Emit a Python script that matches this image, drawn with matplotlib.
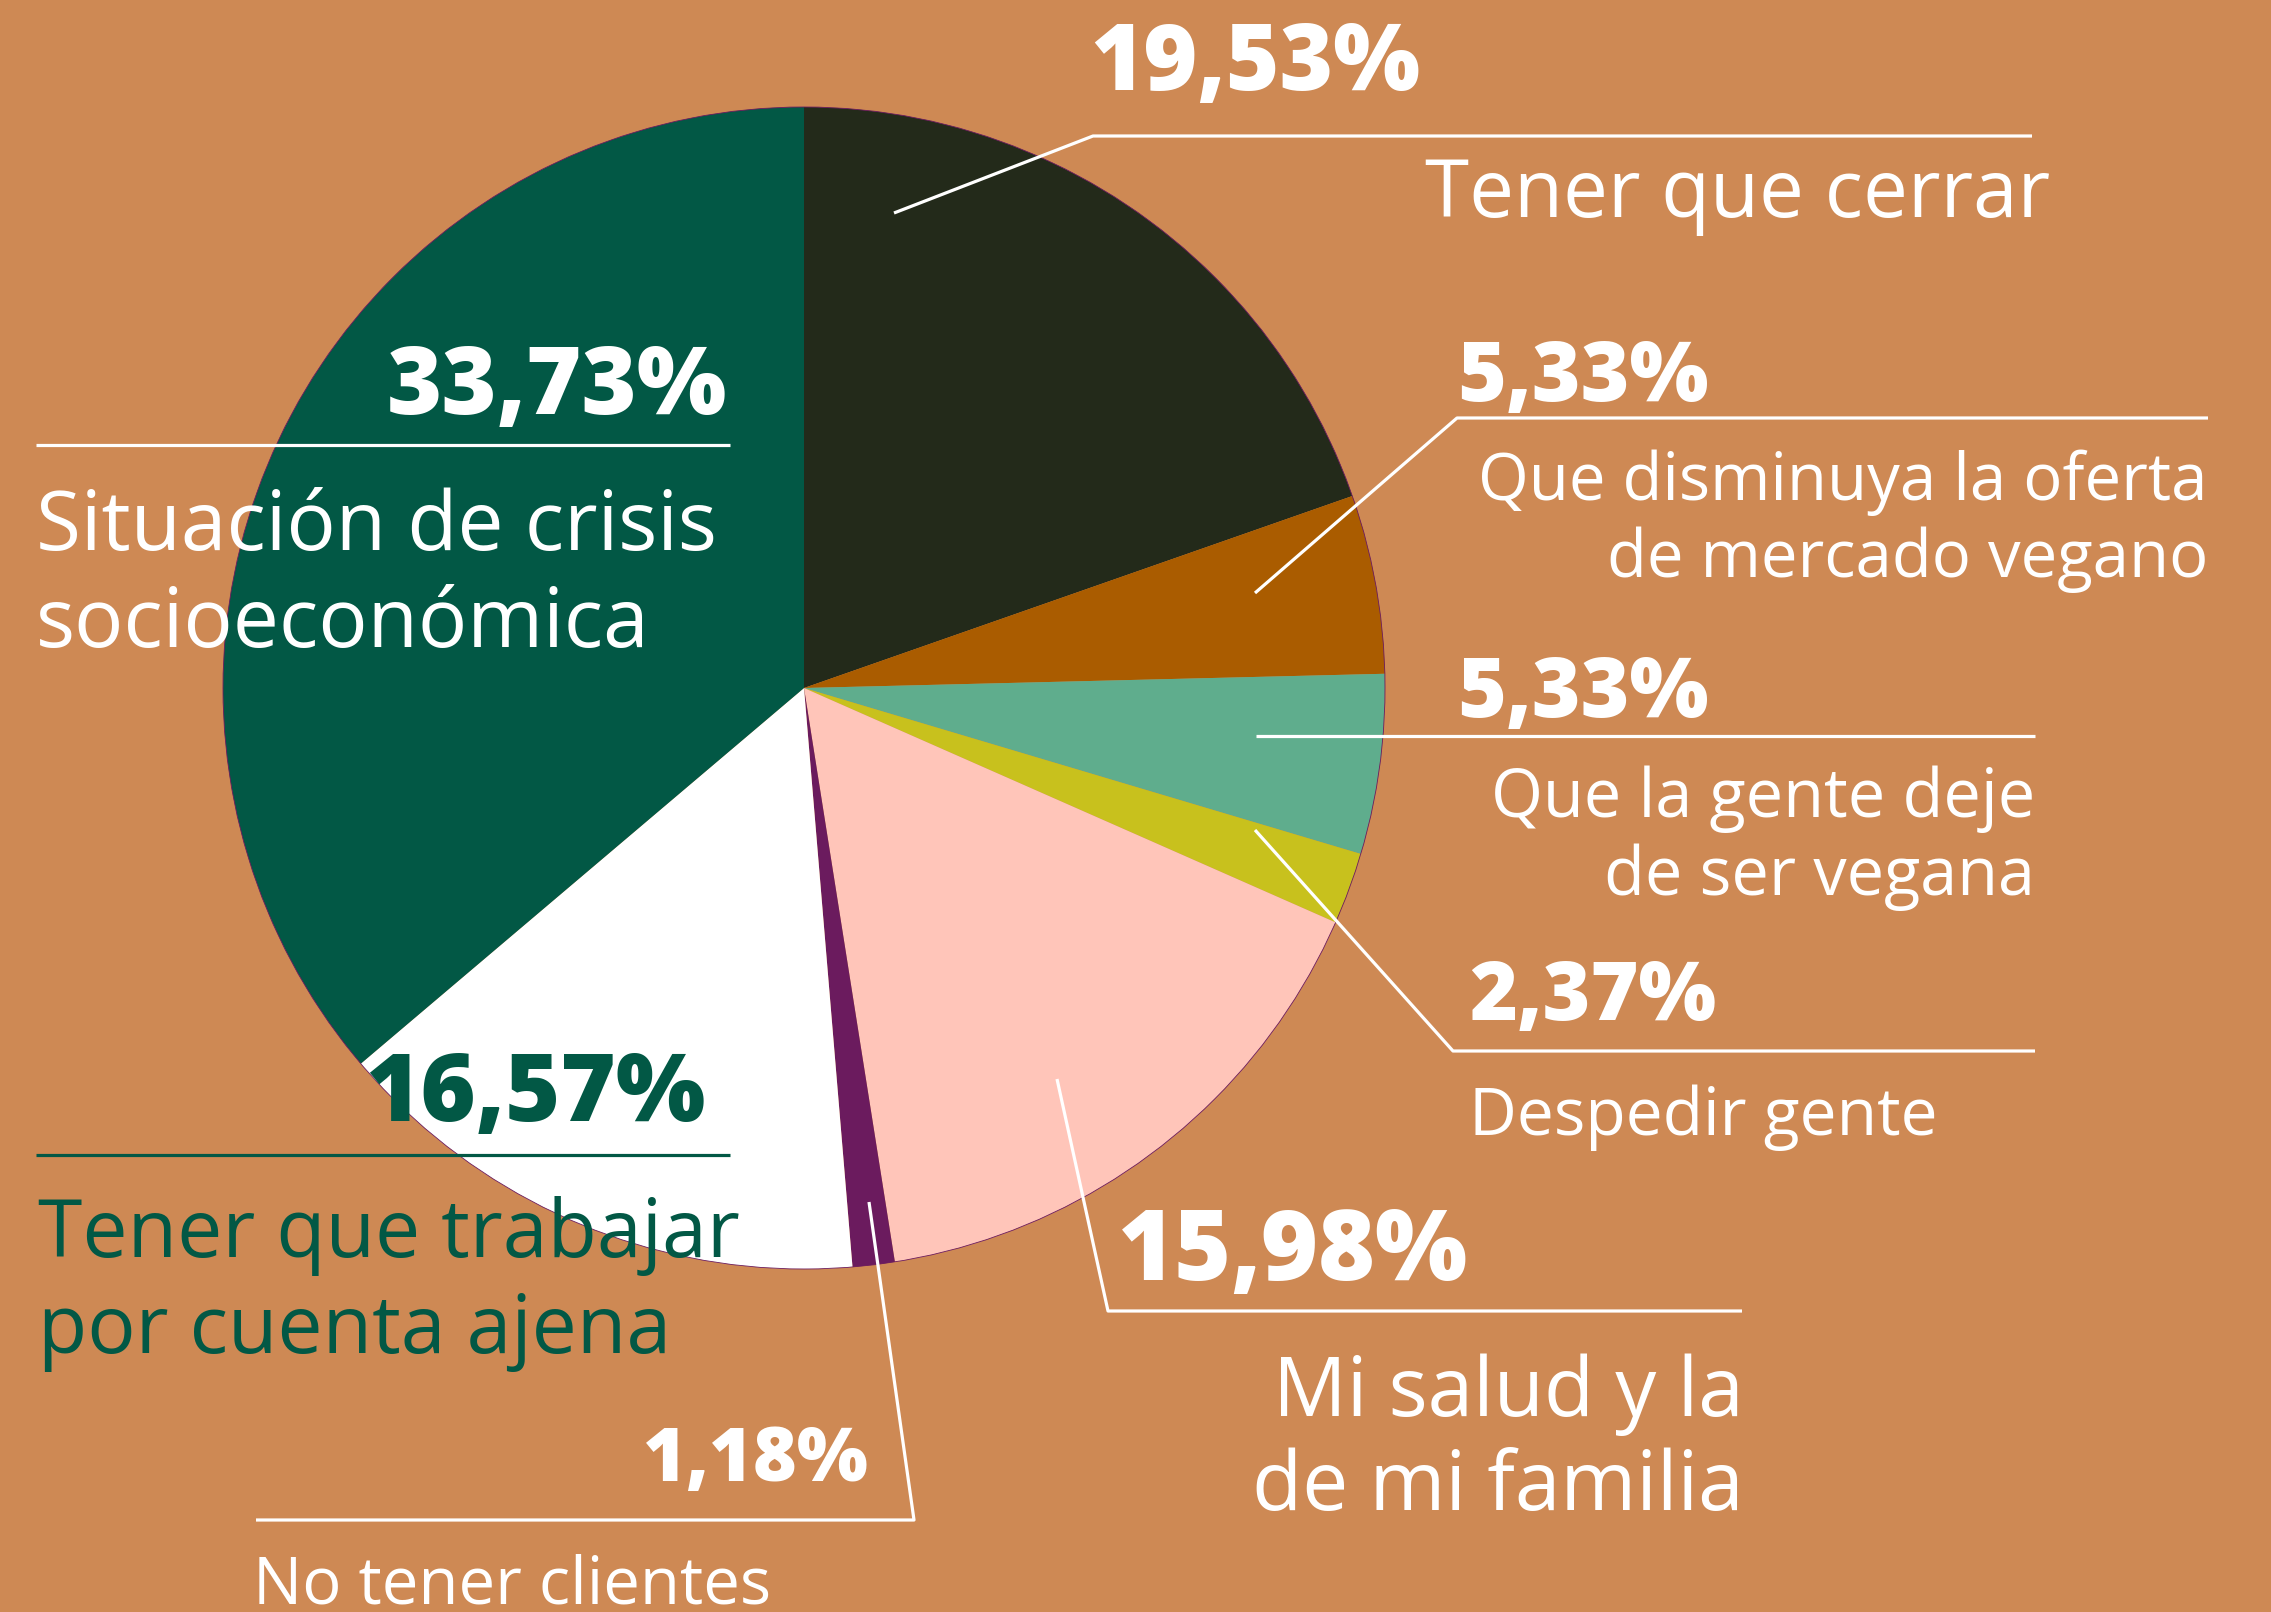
import matplotlib
matplotlib.use("Agg")
import matplotlib.pyplot as plt
from matplotlib.patches import Circle

# ---- data ----
categories = ["Tener que cerrar", "Que disminuya la oferta de mercado vegano",
              "Que la gente deje de ser vegana", "Despedir gente",
              "Mi salud y la de mi familia", "No tener clientes",
              "Tener que trabajar por cuenta ajena",
              "Situación de crisis socioeconómica"]
# percentages printed on the chart
pct_labels = ["19,53%", "5,33%", "5,33%", "2,37%", "15,98%", "1,18%", "16,57%", "33,73%"]
# slice shares as actually drawn in the picture
slice_shares = [19.64, 4.97, 5.00, 2.00, 15.89, 1.17, 15.14, 36.19]
colors = ["#232A1A", "#AA5C00", "#5FAD8D", "#C8C11D", "#FFC5B9", "#6B1B5E",
          "#FFFFFF", "#025845"]
BG = "#CE8954"
GREEN = "#025845"

W, H = 2271, 1612
fig = plt.figure(figsize=(W / 100, H / 100), dpi=100, facecolor=BG)
ax = fig.add_axes([0, 0, 1, 1])
ax.set_facecolor(BG)

CX, CY, R = 804, 688, 581
# pie (y axis inverted -> counterclock in data = clockwise on screen)
ax.pie(slice_shares, colors=colors, startangle=-90, counterclock=True,
       center=(CX, CY), radius=R, wedgeprops=dict(linewidth=0),
       frame=True)
ax.add_patch(Circle((CX, CY), R, fill=False, ec="#6B1B5E", lw=0.6, zorder=3))
ax.set_xlim(0, W)
ax.set_ylim(H, 0)
ax.set_aspect("equal")
ax.axis("off")

FONT = "Open Sans"
LW = 2.3

def line(pts, color="white"):
    xs, ys = zip(*pts)
    ax.plot(xs, ys, color=color, lw=LW, solid_capstyle="butt", zorder=5)

def txt(x, y, s, size, ha="left", color="white", bold=False):
    ax.text(x, y, s, fontsize=size, ha=ha, va="baseline", color=color,
            family=FONT, weight="heavy" if bold else "normal", zorder=6)

# Tener que cerrar
line([(894, 213), (1093, 136), (2032, 136)])
txt(1090, 90, pct_labels[0], 66, bold=True)
txt(2050, 217, "Tener que cerrar", 57.5, ha="right")

# Que disminuya
line([(1255, 593), (1457, 418), (2208, 418)])
txt(1457, 401, pct_labels[1], 60, bold=True)
txt(2208, 500, "Que disminuya la oferta", 47, ha="right")
txt(2208, 577, "de mercado vegano", 47, ha="right")

# Que la gente deje
line([(1256, 736), (2035, 736)])
txt(1457, 717, pct_labels[2], 60, bold=True)
txt(2035, 817, "Que la gente deje", 48, ha="right")
txt(2035, 895, "de ser vegana", 48, ha="right")

# Despedir gente
line([(1255, 830), (1453, 1051), (2035, 1051)])
txt(1469, 1020, pct_labels[3], 59, bold=True)
txt(1469, 1135, "Despedir gente", 47.5)

# Mi salud
line([(1057, 1079), (1108, 1311), (1742, 1311)])
txt(1118, 1280, pct_labels[4], 70, bold=True)
txt(1744, 1416, "Mi salud y la", 59, ha="right")
txt(1744, 1510, "de mi familia", 59, ha="right")

# No tener clientes
line([(869, 1202), (914, 1520), (256, 1520)])
txt(869, 1481, pct_labels[5], 54, ha="right", bold=True)
txt(253, 1603, "No tener clientes", 47)

# Tener que trabajar
line([(36, 1155), (730, 1155)], color=GREEN)
txt(705, 1121, pct_labels[6], 68, ha="right", color=GREEN, bold=True)
txt(38, 1257, "Tener que trabajar", 58, color=GREEN)
txt(38, 1353, "por cuenta ajena", 58, color=GREEN)

# Situación de crisis
line([(36, 445), (730, 445)])
txt(727, 414, pct_labels[7], 68, ha="right", bold=True)
txt(36, 550, "Situación de crisis", 59)
txt(36, 647, "socioeconómica", 59)

fig.savefig("out.png", dpi=100, facecolor=BG)
